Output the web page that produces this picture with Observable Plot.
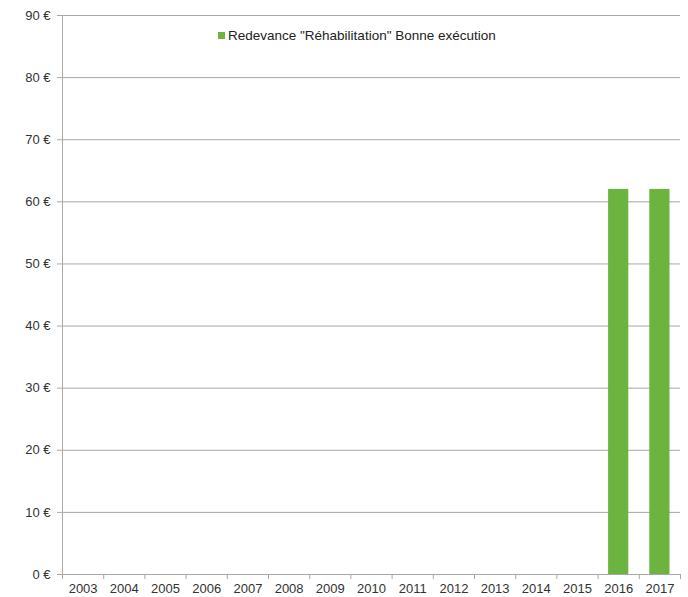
<!DOCTYPE html>
<html>
<head>
<meta charset="utf-8">
<script src="https://cdn.jsdelivr.net/npm/d3@7"></script>
<script src="https://cdn.jsdelivr.net/npm/@observablehq/plot@0.6"></script>
<style>
  html, body { margin: 0; padding: 0; background: #fff; }
  #chart { position: relative; width: 688px; height: 597px; font-family: "Liberation Sans", Arial, sans-serif; }
  #legend { position: absolute; left: 218px; top: 28px; font-size: 13.5px; color: #222; display: flex; align-items: center; white-space: nowrap; }
  #legend .sw { width: 7px; height: 7px; margin-right: 3px; }
</style>
</head>
<body>
<div id="chart"></div>
<script>
// Annual fee per year (€)
const years = [2003, 2004, 2005, 2006, 2007, 2008, 2009, 2010, 2011, 2012, 2013, 2014, 2015, 2016, 2017];
const redevance = [0, 0, 0, 0, 0, 0, 0, 0, 0, 0, 0, 0, 0, 62, 62];
const seriesName = 'Redevance "Réhabilitation" Bonne exécution';
const yTicks = [0, 10, 20, 30, 40, 50, 60, 70, 80, 90];

const green = "#6cb33f";
const grid = "#a8a8a8";
const data = years.map((year, i) => ({year, value: redevance[i]}));
const halfBar = 0.245;

const chart = Plot.plot({
  width: 688,
  height: 597,
  marginLeft: 62,
  marginRight: 8,
  marginTop: 15,
  marginBottom: 23,
  style: {fontFamily: '"Liberation Sans", Arial, sans-serif', fontSize: "13px", color: "#333", background: "#fff"},
  x: {domain: [years[0] - 0.5, years[years.length - 1] + 0.5]},
  y: {domain: [0, 90]},
  marks: [
    Plot.gridY(yTicks, {stroke: grid, strokeOpacity: 1, strokeWidth: 1}),
    Plot.axisY(yTicks, {tickSize: 5, tickPadding: 7, stroke: grid, tickFormat: d => `${d} €`, label: null, fill: "#333"}),
    Plot.ruleX([years[0] - 0.5], {stroke: grid}),
    Plot.ruleY([0], {stroke: grid}),
    // tick marks sit between the year categories
    Plot.axisX(d3.range(years[0] - 0.5, years[years.length - 1] + 1, 1), {tickSize: 5, stroke: grid, tickFormat: () => "", label: null}),
    Plot.axisX(years, {tickSize: 0, tickPadding: 9, tickFormat: d => String(d), label: null, fill: "#333"}),
    Plot.rectY(data.filter(d => d.value > 0), {x1: d => d.year - halfBar, x2: d => d.year + halfBar, y: "value", fill: green})
  ]
});

const root = document.getElementById("chart");
root.appendChild(chart);
const legend = document.createElement("div");
legend.id = "legend";
legend.innerHTML = `<span class="sw" style="background:${green}"></span><span></span>`;
legend.lastChild.textContent = seriesName;
root.appendChild(legend);
</script>
</body>
</html>
